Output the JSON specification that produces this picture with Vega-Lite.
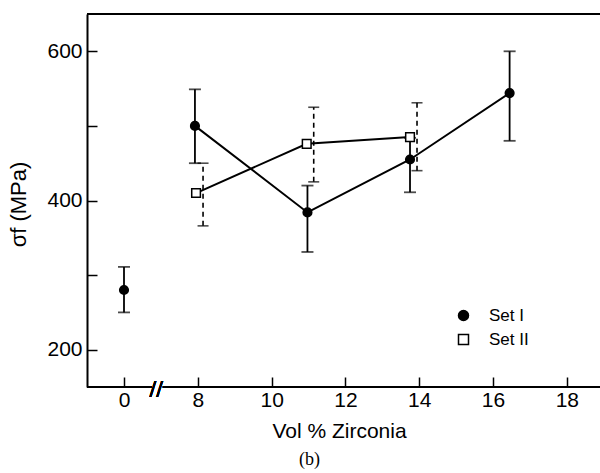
{
  "$schema": "https://vega.github.io/schema/vega-lite/v6.json",
  "width": 513,
  "height": 373,
  "autosize": {"type": "none"},
  "padding": {"left": 87, "top": 14, "right": 0, "bottom": 86},
  "background": "white",
  "config": {
    "view": {"stroke": null},
    "font": "Liberation Sans",
    "legend": {"orient": "none", "symbolStrokeColor": "black", "symbolStrokeWidth": 1.5}
  },
  "title": {
    "text": "(b)",
    "orient": "bottom",
    "anchor": "middle",
    "font": "Liberation Serif",
    "fontSize": 18,
    "fontWeight": "normal",
    "color": "black",
    "dx": -34,
    "offset": 10
  },
  "data": {
    "values": [
      {"set": "Set I", "vol": 0, "s": 280, "lo": 250, "hi": 311},
      {"set": "Set I", "vol": 7.92, "s": 500, "lo": 450, "hi": 549},
      {"set": "Set I", "vol": 10.97, "s": 384, "lo": 331, "hi": 420},
      {"set": "Set I", "vol": 13.75, "s": 455, "lo": 411, "hi": 484},
      {"set": "Set I", "vol": 16.45, "s": 544, "lo": 480, "hi": 600},
      {"set": "Set II", "vol": 7.95, "s": 410, "lo": 366, "hi": 450},
      {"set": "Set II", "vol": 10.95, "s": 476, "lo": 425, "hi": 525},
      {"set": "Set II", "vol": 13.75, "s": 485, "lo": 440, "hi": 531}
    ]
  },
  "encoding": {
    "x": {
      "field": "vol",
      "type": "quantitative",
      "scale": {"domain": [-1, 1, 7, 18.9], "range": [0, 74, 74, 513], "nice": false, "zero": false},
      "axis": {
        "values": [0, 8, 10, 12, 14, 16, 18],
        "domain": false,
        "grid": false,
        "tickSize": -10,
        "tickWidth": 1.5,
        "tickColor": "black",
        "labelFontSize": 21,
        "labelColor": "black",
        "labelPadding": 12,
        "title": "Vol % Zirconia",
        "titleFontSize": 21,
        "titleFontWeight": "normal",
        "titleColor": "black",
        "titleX": 252,
        "titleY": 44,
        "titleBaseline": "middle",
        "titleAlign": "center"
      }
    },
    "y": {
      "field": "s",
      "type": "quantitative",
      "scale": {"domain": [150, 650], "nice": false, "zero": false},
      "axis": {
        "values": [200, 300, 400, 500, 600],
        "labelExpr": "datum.value % 200 === 0 ? datum.label : ''",
        "grid": false,
        "domain": true,
        "domainColor": "black",
        "domainWidth": 2,
        "tickSize": -10,
        "tickWidth": 1.5,
        "tickColor": "black",
        "labelFontSize": 21,
        "labelColor": "black",
        "labelPadding": 15,
        "title": "σf (MPa)",
        "titleFontSize": 22,
        "titleFontWeight": "normal",
        "titleColor": "black",
        "titleX": -69,
        "titleY": 190,
        "titleAngle": 270,
        "titleAlign": "center",
        "titleBaseline": "middle"
      }
    }
  },
  "layer": [
    {
      "mark": {"type": "rule", "color": "black", "strokeWidth": 2},
      "encoding": {"x": {"datum": -1}, "x2": {"datum": 18.9}, "y": {"datum": 650}}
    },
    {
      "mark": {"type": "rule", "color": "black", "strokeWidth": 2},
      "encoding": {"x": {"datum": -1}, "x2": {"datum": 0.75}, "y": {"datum": 150}}
    },
    {
      "mark": {"type": "rule", "color": "black", "strokeWidth": 2},
      "encoding": {"x": {"datum": 7.05}, "x2": {"datum": 18.9}, "y": {"datum": 150}}
    },
    {
      "mark": {"type": "text", "text": "//", "fontSize": 20, "color": "black", "font": "DejaVu Sans", "baseline": "middle", "dy": 2},
      "encoding": {"x": {"datum": 0.87}, "y": {"datum": 150}}
    },
    {
      "transform": [{"filter": "datum.vol > 0"}],
      "mark": {"type": "line", "color": "black", "strokeWidth": 2},
      "encoding": {"detail": {"field": "set"}, "order": {"field": "vol"}}
    },
    {
      "transform": [{"filter": "datum.set === 'Set I'"}],
      "mark": {"type": "rule", "color": "black", "strokeWidth": 1.8},
      "encoding": {"y": {"field": "lo", "type": "quantitative"}, "y2": {"field": "hi"}}
    },
    {
      "transform": [{"filter": "datum.set === 'Set I'"}, {"fold": ["lo", "hi"], "as": ["k", "v"]}],
      "mark": {"type": "tick", "orient": "horizontal", "color": "black", "size": 12, "thickness": 1.8},
      "encoding": {"y": {"field": "v", "type": "quantitative"}}
    },
    {
      "transform": [{"filter": "datum.set === 'Set II'"}],
      "mark": {"type": "rule", "color": "black", "strokeWidth": 1.6, "strokeDash": [5, 4], "xOffset": 7},
      "encoding": {"y": {"field": "lo", "type": "quantitative"}, "y2": {"field": "hi"}}
    },
    {
      "transform": [{"filter": "datum.set === 'Set II'"}, {"fold": ["lo", "hi"], "as": ["k", "v"]}],
      "mark": {"type": "tick", "orient": "horizontal", "color": "black", "size": 11, "thickness": 1.6, "xOffset": 7},
      "encoding": {"y": {"field": "v", "type": "quantitative"}}
    },
    {
      "mark": {"type": "point", "strokeWidth": 1.5, "opacity": 1, "size": 75},
      "encoding": {
        "shape": {
          "field": "set",
          "type": "nominal",
          "scale": {"domain": ["Set I", "Set II"], "range": ["circle", "square"]},
          "legend": {
            "title": null,
            "orient": "none",
            "legendX": 368,
            "legendY": 293,
            "labelFontSize": 17,
            "labelColor": "black",
            "labelOffset": 17,
            "rowPadding": 6,
            "padding": 0
          }
        },
        "fill": {
          "field": "set",
          "type": "nominal",
          "scale": {"domain": ["Set I", "Set II"], "range": ["black", "white"]},
          "legend": {
            "title": null,
            "orient": "none",
            "legendX": 368,
            "legendY": 293,
            "labelFontSize": 17,
            "labelColor": "black",
            "labelOffset": 17,
            "rowPadding": 6,
            "padding": 0
          }
        },
        "stroke": {
          "field": "set",
          "type": "nominal",
          "scale": {"domain": ["Set I", "Set II"], "range": ["black", "black"]},
          "legend": {
            "title": null,
            "orient": "none",
            "legendX": 368,
            "legendY": 293,
            "labelFontSize": 17,
            "labelColor": "black",
            "labelOffset": 17,
            "rowPadding": 6,
            "padding": 0
          }
        }
      }
    }
  ]
}
